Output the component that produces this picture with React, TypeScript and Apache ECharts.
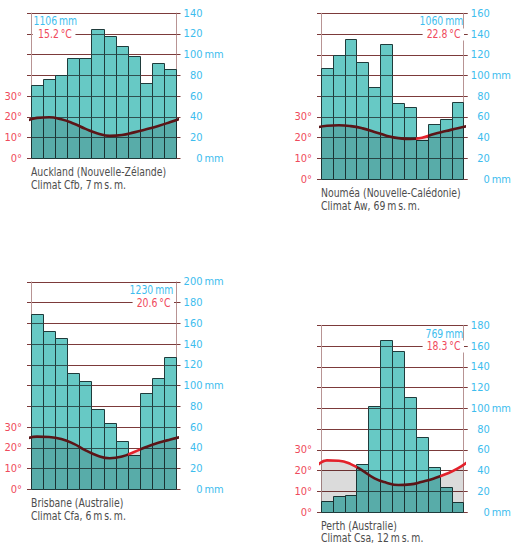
import React, { useEffect, useRef } from 'react';
import * as echarts from 'echarts';

// ---------- data ----------
const months = ['Janv.', 'Févr.', 'Mars', 'Avr.', 'Mai', 'Juin', 'Juil.', 'Août', 'Sept.', 'Oct.', 'Nov.', 'Déc.'];

const aucklandPrecip = [70, 76, 80, 96, 96, 124, 118, 108, 98, 72, 92, 86];
const aucklandTemp = [19.5, 19.8, 18.8, 16.8, 14.2, 12.0, 10.8, 11.2, 12.5, 14.0, 15.6, 17.5];

const noumeaPrecip = [107, 120, 135, 113, 89, 130, 73, 69, 38, 53, 58, 74];
const noumeaTemp = [25.8, 26.0, 25.6, 24.5, 22.8, 21.0, 19.8, 19.4, 20.0, 21.8, 23.2, 24.6];

const brisbanePrecip = [169, 152, 146, 112, 104, 77, 64, 46, 33, 93, 107, 127];
const brisbaneTemp = [25.4, 25.2, 24.2, 22.0, 18.8, 16.2, 15.0, 15.8, 18.0, 20.4, 22.4, 24.0];

const perthPrecip = [10, 15, 16, 46, 102, 166, 155, 111, 72, 43, 24, 9];
const perthTemp = [24.9, 24.7, 23.1, 19.9, 16.2, 14.1, 13.0, 13.3, 14.6, 16.2, 18.3, 21.0];

const stationNames = ['Auckland (Nouvelle-Zélande)', 'Nouméa (Nouvelle-Calédonie)', 'Brisbane (Australie)', 'Perth (Australie)'];
const climateLines = [
  'Climat Cfb, 7\u2009m\u2009s.\u2009m.',
  'Climat Aw, 69\u2009m\u2009s.\u2009m.',
  'Climat Cfa, 6\u2009m\u2009s.\u2009m.',
  'Climat Csa, 12\u2009m\u2009s.\u2009m.',
];
const annualTotals = ['1106\u2009mm', '1060\u2009mm', '1230\u2009mm', '769\u2009mm'];
const meanTemps = ['15.2\u2009°C', '22.8\u2009°C', '20.6\u2009°C', '18.3\u2009°C'];
const precipMax = [140, 160, 200, 180];
const precipStep = 20;
const tempStep = 10;
const tempLabelMax = 30;

// ---------- styles ----------
const FONT = "'Liberation Sans Narrow', 'DejaVu Sans Condensed', 'Arial Narrow', sans-serif";
const BLUE = '#3dbdee';
const RED_TXT = '#ef4a5c';
const LINE_RED = '#e3212b';
const LINE_DARK = '#5b1517';
const BAR_FILL = '#67c9c5';
const BAR_STROKE = '#1f3b3b';
const GRID_IN_BAR = '#2f5050';
const GRID = '#7c3a3a';
const FRAME = '#b89494';
const CAPTION = '#4d4d4d';
const PX_PER_MM = 1.037;
const PLOT_W = 145.5;
const AX_FS = 11;
const TX_FS = 11.5;
const TX_SX = 0.9;
const NUM_W = 17;

const layout = [
  { left: 31, bottom: 158.3, side: 'left' },
  { left: 321, bottom: 179.2, side: 'right' },
  { left: 31, bottom: 489.3, side: 'right' },
  { left: 321, bottom: 512, side: 'right' },
];

const stations = [
  { precip: aucklandPrecip, temp: aucklandTemp },
  { precip: noumeaPrecip, temp: noumeaTemp },
  { precip: brisbanePrecip, temp: brisbaneTemp },
  { precip: perthPrecip, temp: perthTemp },
];

function crisp(v: number) {
  const d = Math.round(v * 2);
  return d % 2 === 1 ? d / 2 : (d + 1) / 2;
}

function buildOption() {
  const MM = '\u2009mm';
  const grid: any[] = [];
  const xAxis: any[] = [];
  const yAxis: any[] = [];
  const series: any[] = [];
  const visualMap: any[] = [];
  const graphic: any[] = [];

  stations.forEach((st, k) => {
    const L = layout[k];
    const max = precipMax[k];
    const h = max * PX_PER_MM;
    const top = L.bottom - h;
    grid.push({ left: L.left, top, width: PLOT_W, height: h });

    xAxis.push({ type: 'category', gridIndex: k, data: months, show: false });
    xAxis.push({ type: 'value', gridIndex: k, min: 0, max: 12, show: false });

    // left: temperature
    yAxis.push({
      type: 'value', gridIndex: k, position: 'left', min: 0, max: max / 2, interval: tempStep,
      axisLine: { show: true, lineStyle: { color: FRAME, width: 1 } },
      axisTick: { show: true, length: 4, lineStyle: { color: GRID, width: 1 } },
      splitLine: { show: true, lineStyle: { color: GRID, width: 1 } },
      axisLabel: {
        margin: 9, color: RED_TXT, fontSize: AX_FS, fontFamily: FONT,
        formatter: (v: number) => (v <= tempLabelMax ? `${v}°` : ''),
      },
    });
    // right: precipitation
    yAxis.push({
      type: 'value', gridIndex: k, position: 'right', min: 0, max, interval: precipStep,
      axisLine: { show: true, lineStyle: { color: FRAME, width: 1 } },
      axisTick: { show: true, length: 4, lineStyle: { color: GRID, width: 1 } },
      splitLine: { show: false },
      axisLabel: {
        margin: 9, align: 'left', color: BLUE, fontSize: AX_FS, fontFamily: FONT,
        formatter: (v: number) => (v % 100 === 0 ? `{n|${v}}{u|${MM}}` : `{n|${v}}`),
        rich: {
          n: { color: BLUE, fontSize: AX_FS, fontFamily: FONT, width: NUM_W, align: 'right' },
          u: { color: BLUE, fontSize: AX_FS, fontFamily: FONT, align: 'right' },
        },
      },
    });

    const base = series.length;
    series.push({
      type: 'custom', xAxisIndex: 2 * k, yAxisIndex: 2 * k + 1, z: 2,
      data: st.precip.map((v, i) => [i, v]),
      encode: { x: 0, y: 1 },
      renderItem: (params: any, api: any) => {
        const i = api.value(0);
        const v = api.value(1);
        const b = api.coord([i, 0]);
        const t = api.coord([i, v]);
        const w = api.size([1, 0])[0];
        const x0 = crisp(b[0] - w / 2);
        const x1 = crisp(b[0] + w / 2);
        const y0 = crisp(b[1]);
        const y1 = crisp(t[1]);
        const children: any[] = [
          { type: 'rect', shape: { x: x0, y: y1, width: x1 - x0, height: y0 - y1 }, style: { fill: BAR_FILL, stroke: BAR_STROKE, lineWidth: 1 } },
        ];
        for (let g = precipStep; g < v; g += precipStep) {
          const y = crisp(api.coord([i, g])[1]);
          children.push({ type: 'line', shape: { x1: x0, y1: y, x2: x1, y2: y }, style: { stroke: GRID_IN_BAR, lineWidth: 1 } });
        }
        return { type: 'group', children };
      },
    });
    const cyc = [[-0.5, st.temp[11]], ...st.temp.map((t, i) => [i + 0.5, t]), [12.5, st.temp[0]]];
    series.push({
      type: 'line', xAxisIndex: 2 * k + 1, yAxisIndex: 2 * k, z: 3, smooth: 0.5, symbol: 'none',
      data: cyc, lineStyle: { width: 0, opacity: 0 }, areaStyle: { color: 'rgba(0,0,0,0.14)', opacity: 1 },
      silent: true,
    });
    series.push({
      type: 'line', xAxisIndex: 2 * k + 1, yAxisIndex: 2 * k, z: 4, smooth: 0.5, symbol: 'none',
      data: cyc, lineStyle: { width: 2.6 }, silent: true,
    });
    visualMap.push({
      type: 'piecewise', show: false, dimension: 0, seriesIndex: base + 2,
      pieces: st.temp.map((t, i) => {
        const p: any = { color: t * 2 > st.precip[i] ? LINE_RED : LINE_DARK };
        if (i > 0) p.gte = i;
        if (i < 11) p.lt = i + 1;
        return p;
      }),
    });

    const right = L.left + PLOT_W;
    const yTotal = top + 8.5;
    const yMean = L.bottom - (max - precipStep) * PX_PER_MM;
    const txt = (x: number, y: number, text: string, fill: string, align: string, extra: any = {}) => ({
      type: 'text', x, y, z: 100, scaleX: TX_SX,
      style: { text, fill, fontSize: TX_FS, fontFamily: FONT, align, textAlign: align, verticalAlign: 'middle', textVerticalAlign: 'middle', ...extra },
    });
    if (L.side === 'left') {
      graphic.push(txt(L.left + 2.5, yTotal, annualTotals[k], BLUE, 'left'));
      graphic.push(txt(L.left + 1.7, yMean + 0.5, meanTemps[k], RED_TXT, 'left', { backgroundColor: '#fff', padding: [0, 4, 0, 6] }));
    } else {
      graphic.push(txt(right - 3.2, yTotal, annualTotals[k], BLUE, 'right'));
      graphic.push(txt(right - 2.5, yMean + 0.5, meanTemps[k], RED_TXT, 'right', { backgroundColor: '#fff', padding: [0, 4, 0, 4.5] }));
    }
    graphic.push(txt(L.left, L.bottom + 14.4, stationNames[k], CAPTION, 'left'));
    graphic.push(txt(L.left, L.bottom + 26.7, climateLines[k], CAPTION, 'left'));
  });

  return { animation: false, backgroundColor: '#fff', grid, xAxis, yAxis, series, visualMap, graphic };
}

export default function App() {
  const ref = useRef<HTMLDivElement>(null);
  useEffect(() => {
    if (!ref.current) return;
    const chart = echarts.init(ref.current, null, { renderer: 'svg' });
    chart.setOption(buildOption() as any);
    return () => chart.dispose();
  }, []);
  return <div ref={ref} style={{ position: 'fixed', left: 0, top: 0, width: 514, height: 546, background: '#fff' }} />;
}
